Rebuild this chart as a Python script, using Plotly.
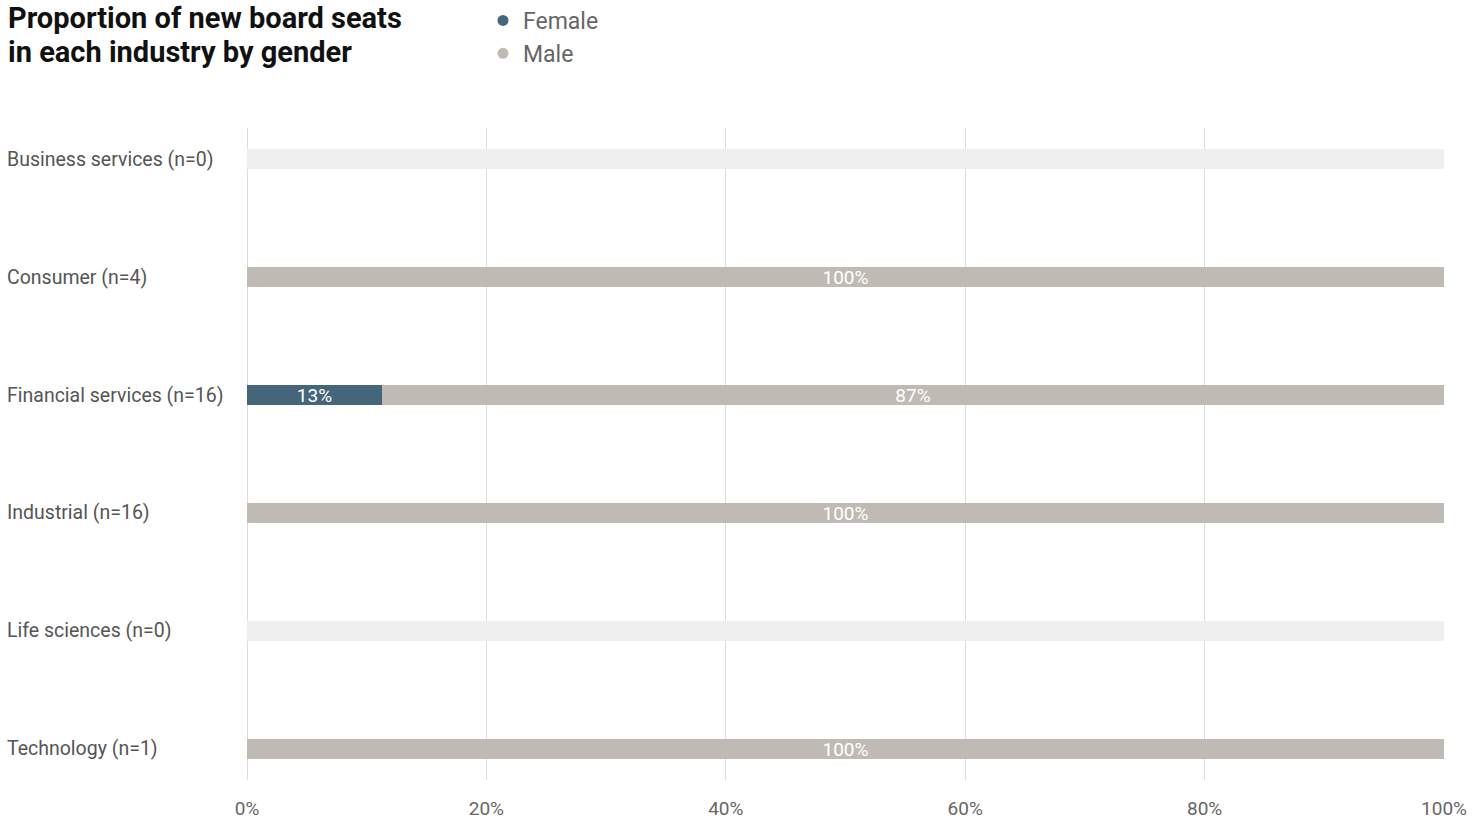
import plotly.graph_objects as go

categories = ["Business services (n=0)", "Consumer (n=4)", "Financial services (n=16)",
              "Industrial (n=16)", "Life sciences (n=0)", "Technology (n=1)"]
female = [0, 0, 11.3, 0, 0, 0]
male = [0, 100, 88.7, 100, 0, 100]
track = [100, 100, 100, 100, 100, 100]
female_labels = ["", "", "13%", "", "", ""]
male_labels = ["", "100%", "87%", "100%", "", "100%"]
x_ticks = [0, 20, 40, 60, 80, 100]
x_tick_labels = ["0%", "20%", "40%", "60%", "80%", "100%"]
title_lines = ["Proportion of new board seats", "in each industry by gender"]

FONT = "Roboto"
C_F = "#44657a"
C_M = "#bfbbb4"
C_T = "#efefef"

fig = go.Figure()
fig.add_trace(go.Bar(y=categories, x=track, orientation="h", marker=dict(color=C_T, line_width=0),
                     width=0.17, showlegend=False, hoverinfo="skip"))
fig.add_trace(go.Bar(y=categories, x=female, orientation="h", marker=dict(color=C_F, line_width=0),
                     width=0.17, showlegend=False, text=female_labels, textposition="inside",
                     insidetextanchor="middle", constraintext="none",
                     textfont=dict(family=FONT, size=19, color="white"), name="Female"))
fig.add_trace(go.Bar(y=categories, x=male, base=female, orientation="h",
                     marker=dict(color=C_M, line_width=0),
                     width=0.17, showlegend=False, text=male_labels, textposition="inside",
                     insidetextanchor="middle", constraintext="none",
                     textfont=dict(family=FONT, size=19, color="white"), name="Male"))
# legend entries with circle markers
fig.add_trace(go.Scatter(x=[None], y=[None], mode="markers", name="Female",
                         marker=dict(color=C_F, size=11, symbol="circle")))
fig.add_trace(go.Scatter(x=[None], y=[None], mode="markers", name="Male",
                         marker=dict(color=C_M, size=11, symbol="circle")))

annotations = []
for i, line in enumerate(title_lines):
    annotations.append(dict(text="<b>" + line + "</b>", xref="paper", yref="paper",
                            x=-241 / 1197, y=(780 - 18 - 34 * i) / 652,
                            xanchor="left", yanchor="middle", align="left", showarrow=False,
                            font=dict(family=FONT, size=29, color="#111111")))
for c in categories:
    annotations.append(dict(text=c, xref="paper", yref="y", x=-242 / 1197, y=c,
                            xanchor="left", yanchor="middle", showarrow=False,
                            font=dict(family=FONT, size=19.5, color="#555555")))

fig.update_layout(
    barmode="overlay",
    width=1483, height=819,
    margin=dict(l=247, r=39, t=128, b=39, autoexpand=False),
    paper_bgcolor="white", plot_bgcolor="white",
    bargap=0,
    annotations=annotations,
    legend=dict(x=(483 - 247) / 1197, y=(780 + 1) / 652, xanchor="left", yanchor="top",
                font=dict(family=FONT, size=23, color="#666666"), tracegroupgap=0,
                itemwidth=30, bgcolor="rgba(0,0,0,0)"),
    xaxis=dict(range=[0, 100], tickvals=x_ticks, ticktext=x_tick_labels, automargin=False,
               showgrid=True, gridcolor="#dddddd", gridwidth=1, zeroline=True,
               zerolinecolor="#dddddd", zerolinewidth=1, showline=False,
               ticks="outside", ticklen=11, tickcolor="rgba(0,0,0,0)",
               tickfont=dict(family=FONT, size=19, color="#666666"), fixedrange=True),
    yaxis=dict(type="category", categoryorder="array", categoryarray=categories,
               range=[5.263, -0.263], showticklabels=False, showgrid=False, automargin=False,
               zeroline=False, showline=False, fixedrange=True),
)

fig.write_html("out.html", config={"displayModeBar": False},
               post_script="document.body.style.margin='0';document.body.style.overflow='hidden';")
